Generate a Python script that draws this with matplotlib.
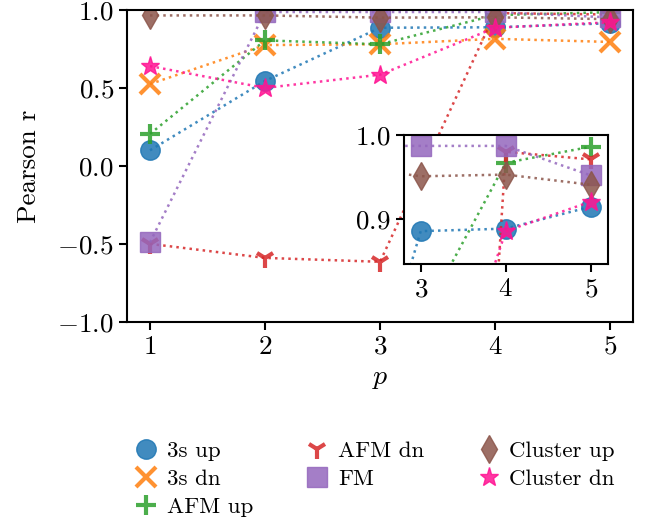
import matplotlib
matplotlib.use("Agg")
import matplotlib.pyplot as plt
from matplotlib.lines import Line2D

plt.rcParams["font.family"] = "serif"
plt.rcParams["font.serif"] = ["cmr10"]
plt.rcParams["mathtext.fontset"] = "cm"
plt.rcParams["axes.formatter.use_mathtext"] = True
plt.rcParams["axes.unicode_minus"] = True

# data
p = [1, 2, 3, 4, 5]
three_s_up = [0.10, 0.545, 0.886, 0.889, 0.915]
three_s_dn = [0.525, 0.775, 0.78, 0.815, 0.795]
afm_up = [0.205, 0.805, 0.78, 0.967, 0.986]
afm_dn = [-0.50, -0.59, -0.615, 0.980, 0.971]
fm = [-0.49, 0.987, 0.987, 0.987, 0.952]
cluster_up = [0.965, 0.965, 0.951, 0.953, 0.941]
cluster_dn = [0.64, 0.50, 0.585, 0.886, 0.921]

series = [
    ("3s up", three_s_up, "o", "tab:blue"),
    ("3s dn", three_s_dn, "x", "tab:orange"),
    ("AFM up", afm_up, "+", "tab:green"),
    ("AFM dn", afm_dn, "1", "tab:red"),
    ("FM", fm, "s", "tab:purple"),
    ("Cluster up", cluster_up, "d", "tab:brown"),
    ("Cluster dn", cluster_dn, "*", "deeppink"),
]

fig = plt.figure(figsize=(6.48, 5.25), dpi=100)
ax = fig.add_axes([0.196, 0.387, 0.781, 0.594])
ins = fig.add_axes([0.623, 0.497, 0.315, 0.246])


def marker_style(mk, col):
    return dict(marker=mk, markersize=14, color=col, alpha=0.85,
                markeredgewidth=3 if mk in "x+1" else 1)


def draw(a):
    for name, vals, mk, col in series:
        a.plot(p, vals, linestyle=":", linewidth=1.8, label=name,
               **marker_style(mk, col))


draw(ax)
ax.set_xlim(0.8, 5.2)
ax.set_ylim(-1.0, 1.0)
ax.set_xticks(p)
ax.set_yticks([-1.0, -0.5, 0.0, 0.5, 1.0])
ax.set_xlabel("$p$", fontsize=20)
ax.set_ylabel("Pearson r", fontsize=19.5, labelpad=12)
ax.tick_params(labelsize=19.5, width=1.5, length=6)
for s in ax.spines.values():
    s.set_linewidth(1.5)

# zoomed inset on the upper right
draw(ins)
ins.set_xlim(2.8, 5.2)
ins.set_ylim(0.847, 1.0)
ins.set_xticks([3, 4, 5])
ins.set_yticks([0.9, 1.0])
ins.tick_params(labelsize=19.5, width=1.5, length=6)
for s in ins.spines.values():
    s.set_linewidth(1.5)

# legend shows markers only
handles = [Line2D([], [], linestyle="none", **marker_style(mk, col))
           for _, _, mk, col in series]
labels = [s[0] for s in series]
fig.legend(handles, labels, loc="upper left", bbox_to_anchor=(0.18, 0.2),
           ncol=3, frameon=False, fontsize=16.5, handletextpad=0.5,
           columnspacing=2.4, labelspacing=0.35, handlelength=0.8)

fig.savefig("out.png", dpi=100)
